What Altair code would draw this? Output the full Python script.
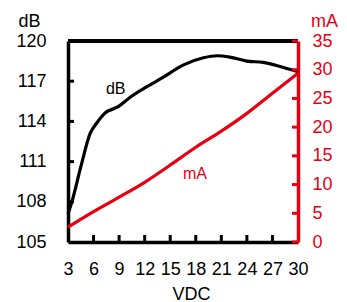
import altair as alt
import pandas as pd

# dB curve (left axis)
vdc_db = [3, 3.5, 4.5, 5.6, 6.4, 7.3, 8.9, 10.3, 14.2, 16.5, 18.9, 20.5, 22, 24, 25.9, 27.9, 30]
db_vals = [107.1, 108.1, 110.6, 113.1, 113.9, 114.6, 115.1, 115.8, 117.3, 118.2, 118.75, 118.9, 118.8, 118.5, 118.4, 118.1, 117.7]

# mA curve (right axis)
vdc_ma = [3, 6, 9, 12, 15, 18, 21, 24, 27, 30]
ma_vals = [2.6, 5.3, 7.8, 10.4, 13.4, 16.5, 19.3, 22.4, 25.9, 29.4]

x_ticks = [3, 6, 9, 12, 15, 18, 21, 24, 27, 30]
db_ticks = [105, 108, 111, 114, 117, 120]
ma_ticks = [0, 5, 10, 15, 20, 25, 30, 35]

RED = "#e60012"
FS = 18

W, H = 230, 201

x_enc = alt.X(
    "vdc:Q",
    scale=alt.Scale(domain=[3, 30], nice=False, zero=False),
    axis=alt.Axis(
        values=x_ticks, title="VDC", grid=False, ticks=False, tickSize=0,
        domainColor="black", domainWidth=3.5, labelFontSize=FS, labelColor="black",
        labelPadding=18, labelFlush=False, titleFontSize=FS, titleFontWeight="normal",
        titleColor="black", titleX=123, titleY=43, titleBaseline="top", titleAlign="center",
    ),
)

y_db = alt.Y(
    "db:Q",
    scale=alt.Scale(domain=[105, 120], nice=False, zero=False),
    axis=alt.Axis(
        values=db_ticks, title="dB", grid=False, ticks=False, tickSize=0,
        domainColor="black", domainWidth=3.5, labelFontSize=FS, labelColor="black",
        labelPadding=22, titleAngle=0, titleFontSize=FS, titleFontWeight="normal",
        titleColor="black", titleX=-39, titleY=-15, titleAlign="center",
        titleBaseline="alphabetic",
    ),
)

y_ma = alt.Y(
    "ma:Q",
    scale=alt.Scale(domain=[0, 35], nice=False, zero=False),
    axis=alt.Axis(
        orient="right", values=ma_ticks, title="mA", grid=False, ticks=False, tickSize=0,
        domainColor=RED, domainWidth=3.5, labelFontSize=FS, labelColor=RED,
        labelPadding=14, titleAngle=0, titleFontSize=FS, titleFontWeight="normal",
        titleColor=RED, titleX=26, titleY=-15, titleAlign="center",
        titleBaseline="alphabetic",
    ),
)

df_db = pd.DataFrame({"vdc": vdc_db, "db": db_vals})
df_ma = pd.DataFrame({"vdc": vdc_ma, "ma": ma_vals})
df_xt = pd.DataFrame({"vdc": x_ticks[1:-1]})
df_dbt = pd.DataFrame({"db": db_ticks[1:-1]})
df_mat = pd.DataFrame({"ma": ma_ticks})
df_lab_db = pd.DataFrame({"vdc": [8.6], "db": [116.4], "t": ["dB"]})
df_lab_ma = pd.DataFrame({"vdc": [17.9], "ma": [11.85], "t": ["mA"]})

db_line = alt.Chart(df_db).mark_line(
    color="black", strokeWidth=3.2, interpolate="monotone"
).encode(x=x_enc, y=y_db)

top_border = alt.Chart(df_xt).mark_rule(color="black", strokeWidth=3.5).encode(
    x=alt.value(0), x2=alt.value(W), y=alt.value(0)
)

x_tick_marks = alt.Chart(df_xt).mark_rule(color="black", strokeWidth=3).encode(
    x=x_enc, y=alt.value(H), y2=alt.value(H - 7)
)

db_tick_marks = alt.Chart(df_dbt).mark_rule(color="black", strokeWidth=3).encode(
    y=y_db, x=alt.value(0), x2=alt.value(6)
)

db_label = alt.Chart(df_lab_db).mark_text(
    fontSize=16, color="black"
).encode(x=x_enc, y=y_db, text="t:N")

left = alt.layer(top_border, x_tick_marks, db_tick_marks, db_line, db_label)

ma_line = alt.Chart(df_ma).mark_line(
    color=RED, strokeWidth=3.2, interpolate="monotone"
).encode(x=x_enc, y=y_ma)

ma_tick_marks = alt.Chart(df_mat).mark_rule(color=RED, strokeWidth=3).encode(
    y=y_ma, x=alt.value(W), x2=alt.value(W - 6)
)

ma_label = alt.Chart(df_lab_ma).mark_text(
    fontSize=16, color=RED
).encode(x=x_enc, y=y_ma, text="t:N")

right = alt.layer(ma_line, ma_tick_marks, ma_label)

chart = (
    alt.layer(left, right)
    .resolve_scale(y="independent")
    .properties(
        width=W, height=H,
        autosize=alt.AutoSizeParams(type="none"),
        padding={"left": 60, "top": 33, "right": 40, "bottom": 60},
    )
    .configure(font="Liberation Sans")
    .configure_view(stroke=None)
)

chart.save("out.html", embed_options={"renderer": "svg", "actions": False})
